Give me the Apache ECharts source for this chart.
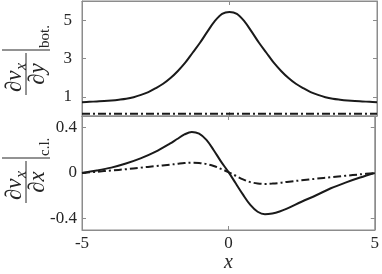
<!DOCTYPE html>
<html><head><meta charset="utf-8">
<script src="https://cdn.jsdelivr.net/npm/echarts@6/dist/echarts.min.js"></script>
<style>html,body{margin:0;padding:0;background:#fff}#c{width:382px;height:274px}</style>
</head><body><div id="c"></div>
<script>
// ---- data ----
const xTop = [-5,-4.75,-4.5,-4.25,-4,-3.75,-3.5,-3.25,-3,-2.75,-2.5,-2.25,-2,-1.75,-1.5,-1.25,-1,-0.75,-0.5,-0.25,0,
  0.25,0.5,0.75,1,1.25,1.5,1.75,2,2.25,2.5,2.75,3,3.25,3.5,3.75,4,4.25,4.5,4.75,5];
const topSolid = [0.72,0.74,0.76,0.78,0.81,0.85,0.9,0.98,1.1,1.25,1.45,1.68,1.98,2.35,2.78,3.3,3.82,4.4,4.95,5.33,5.43,
  5.33,4.95,4.4,3.82,3.3,2.78,2.35,1.98,1.68,1.45,1.25,1.1,0.98,0.9,0.85,0.81,0.78,0.76,0.74,0.72];
const xTopDash = [-5, 5];
const topDash = [0.12, 0.12];
const xBot = [-5,-4.5,-4,-3.5,-3,-2.5,-2,-1.75,-1.5,-1.25,-1,-0.75,-0.5,-0.25,0,0.25,0.5,0.75,1,1.25,1.5,1.75,2,2.5,3,3.5,4,4.5,5];
const botSolid = [0,0.021,0.047,0.083,0.128,0.185,0.257,0.298,0.338,0.36,0.345,0.29,0.2,0.1,0.01,-0.09,-0.19,-0.28,-0.34,-0.362,-0.355,-0.338,-0.313,-0.252,-0.195,-0.134,-0.084,-0.04,0];
const botDash = [0,0.011,0.022,0.033,0.047,0.06,0.073,0.08,0.087,0.091,0.088,0.079,0.062,0.036,0.008,-0.024,-0.056,-0.08,-0.092,-0.096,-0.093,-0.087,-0.078,-0.064,-0.05,-0.037,-0.024,-0.012,0];
const topTicks = [1, 3, 5];
const botTicks = [-0.4, 0, 0.4];
const xTickInterval = 5;

// ---- styling ----
const FRAME = '#8c8c8c';
const INK = '#262626';
const SERIF = 'Liberation Serif';
const pairs = (xs, ys) => xs.map((x, i) => [x, ys[i]]);

function xAx(grid, pos, labels) {
  return {
    type: 'value', gridIndex: grid, position: pos, min: -5, max: 5, interval: xTickInterval,
    axisLine: {show: true, onZero: false, lineStyle: {color: FRAME, width: 1}},
    axisTick: {show: true, inside: true, length: 4, lineStyle: {color: FRAME}},
    axisLabel: {show: labels, margin: 5, color: INK, fontFamily: SERIF, fontSize: 17},
    splitLine: {show: false},
    name: labels ? 'x' : '', nameLocation: 'middle', nameGap: 23,
    nameTextStyle: {fontFamily: SERIF, fontStyle: 'italic', fontSize: 20, color: INK}
  };
}
function yAx(grid, pos, min, max, ticks, labels, margin) {
  return {
    type: 'value', gridIndex: grid, position: pos, min: min, max: max,
    axisLine: {show: true, onZero: false, lineStyle: {color: FRAME, width: 1}},
    axisTick: {show: true, inside: true, length: 4, customValues: ticks, lineStyle: {color: FRAME}},
    axisLabel: {show: labels, customValues: ticks, margin: margin, color: INK, fontFamily: SERIF, fontSize: 17},
    splitLine: {show: false}
  };
}
function mkLabel(x0, y0, denom, sub) {
  const f = 'italic 23px ' + SERIF;
  return {
    type: 'group', x: x0, y: y0, rotation: Math.PI / 2, silent: true,
    children: [
      {type: 'line', shape: {x1: 0, y1: 0, x2: 42, y2: 0}, style: {stroke: INK, lineWidth: 1}},
      {type: 'text', x: 3, y: 0, style: {text: '\u2202v', font: f, fill: INK, align: 'left', verticalAlign: 'bottom'}},
      {type: 'text', x: 25, y: 4, style: {text: 'x', font: 'italic 16px ' + SERIF, fill: INK, align: 'left', verticalAlign: 'bottom'}},
      {type: 'text', x: 21, y: 0, style: {text: '\u2202' + denom, font: f, fill: INK, align: 'center', verticalAlign: 'top'}},
      {type: 'line', shape: {x1: 45, y1: -24, x2: 45, y2: 24}, style: {stroke: INK, lineWidth: 1}},
      {type: 'text', x: 47, y: 27, style: {text: sub, font: '15px ' + SERIF, fill: INK, align: 'left', verticalAlign: 'bottom'}}
    ]
  };
}

const chart = echarts.init(document.getElementById('c'), null, {renderer: 'canvas'});
const lineBase = {type: 'line', showSymbol: false, smooth: 0.35, animation: false, silent: true};
chart.setOption({
  animation: false,
  grid: [
    {left: 82, right: 5, top: 1, height: 115, show: true, borderColor: FRAME, borderWidth: 1},
    {left: 82, right: 5, top: 116, height: 115, show: true, borderColor: FRAME, borderWidth: 1}
  ],
  xAxis: [xAx(0, 'bottom', false), xAx(0, 'top', false), xAx(1, 'bottom', true), xAx(1, 'top', false)],
  yAxis: [
    yAx(0, 'left', 0, 6, topTicks, true, 10), yAx(0, 'right', 0, 6, topTicks, false, 5),
    yAx(1, 'left', -0.5, 0.5, botTicks, true, 5), yAx(1, 'right', -0.5, 0.5, botTicks, false, 5)
  ],
  series: [
    Object.assign({}, lineBase, {xAxisIndex: 0, yAxisIndex: 0, data: pairs(xTop, topSolid), lineStyle: {color: '#1a1a1a', width: 2}}),
    Object.assign({}, lineBase, {xAxisIndex: 0, yAxisIndex: 0, smooth: false, data: pairs(xTopDash, topDash), lineStyle: {color: '#1a1a1a', width: 2, type: [8, 3, 2, 3]}}),
    Object.assign({}, lineBase, {xAxisIndex: 2, yAxisIndex: 2, data: pairs(xBot, botSolid), lineStyle: {color: '#1a1a1a', width: 2}}),
    Object.assign({}, lineBase, {xAxisIndex: 2, yAxisIndex: 2, data: pairs(xBot, botDash), lineStyle: {color: '#1a1a1a', width: 2, type: [8, 3, 2, 3]}})
  ],
  graphic: [mkLabel(26, 95, 'y', 'bot.'), mkLabel(26, 203, 'x', 'c.l.')]
});
</script>
</body></html>
